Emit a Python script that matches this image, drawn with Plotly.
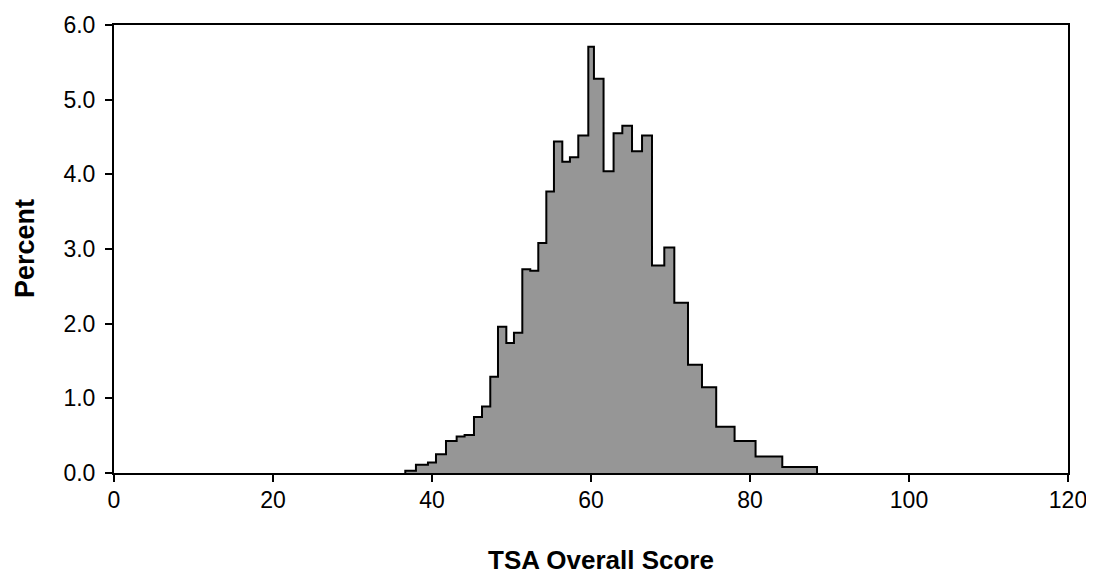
import plotly.graph_objects as go

# Bin edges (TSA Overall Score) and percentages
bin_edges = [36.64, 37.98, 39.49, 40.50, 41.76, 43.10, 44.10, 45.28, 46.29, 47.33,
             48.30, 49.35, 50.31, 51.36, 52.36, 53.37, 54.38, 55.34, 56.39, 57.35,
             58.40, 59.66, 60.37, 61.58, 62.84, 63.94, 65.16, 66.42, 67.67, 69.22,
             70.48, 72.20, 73.96, 75.75, 78.06, 80.70, 84.06, 88.43]
percent = [0.03, 0.11, 0.14, 0.25, 0.43, 0.49, 0.51, 0.75, 0.89, 1.29,
           1.96, 1.74, 1.88, 2.73, 2.71, 3.08, 3.77, 4.44, 4.17, 4.23,
           4.52, 5.71, 5.28, 4.04, 4.55, 4.65, 4.31, 4.52, 2.78, 3.02,
           2.28, 1.45, 1.15, 0.62, 0.43, 0.22, 0.08]

x_ticks = [0, 20, 40, 60, 80, 100, 120]
y_ticks = [0.0, 1.0, 2.0, 3.0, 4.0, 5.0, 6.0]
x_title = "TSA Overall Score"
y_title = "Percent"

xs = [bin_edges[0]] + bin_edges
ys = [0] + percent + [0]

fig = go.Figure()
fig.add_trace(go.Scatter(
    x=xs, y=ys, mode="lines", line=dict(shape="hv", color="black", width=2),
    fill="tozeroy", fillcolor="#969696", hoverinfo="skip", showlegend=False))

font = "Liberation Sans, Arial, sans-serif"
# page body has an 8px margin; figure sized so plot area lands at x 114-1068, y 25-473
fig.update_layout(
    width=1086, height=568,
    margin=dict(l=106, r=26, t=17, b=103, autoexpand=False),
    paper_bgcolor="white", plot_bgcolor="white",
    font=dict(family=font, size=23, color="black"),
    annotations=[
        dict(text="<b>%s</b>" % x_title, xref="paper", yref="paper", x=0.5105, y=0,
             xanchor="center", yanchor="middle", yshift=-87, showarrow=False,
             font=dict(size=26)),
        dict(text="<b>%s</b>" % y_title, xref="paper", yref="paper", x=0, y=0.5,
             xanchor="center", yanchor="middle", xshift=-89, textangle=-90,
             showarrow=False, font=dict(size=27)),
    ],
)
fig.update_xaxes(
    range=[0, 120], tickvals=x_ticks, ticktext=[str(v) for v in x_ticks],
    showgrid=False, zeroline=False, showline=True, linecolor="black", linewidth=2,
    mirror=True, ticks="outside", ticklen=7, tickwidth=2, tickcolor="black",
    tickfont=dict(size=23), ticklabelstandoff=-2, automargin=False,
)
fig.update_yaxes(
    range=[0, 6], tickvals=y_ticks, tickformat=".1f",
    showgrid=False, zeroline=False, showline=True, linecolor="black", linewidth=2,
    mirror=True, ticks="outside", ticklen=7, tickwidth=2, tickcolor="black",
    tickfont=dict(size=23), ticklabelstandoff=5, automargin=False,
)

fig.write_html("out.html")
